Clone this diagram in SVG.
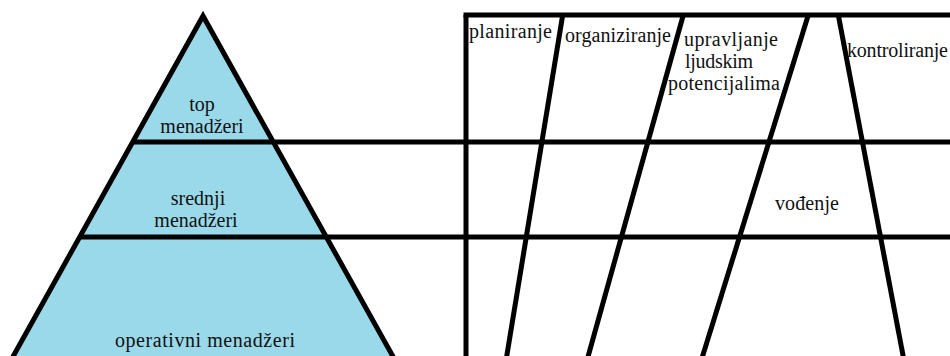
<svg xmlns="http://www.w3.org/2000/svg" width="950" height="356" viewBox="0 0 950 356">
<style>
.lvl{fill:#99D9EA;stroke:none}
.ln{stroke:#000;stroke-width:5;fill:none}
.t{font-family:"Liberation Serif","Times New Roman",Times,serif;font-size:20px;fill:#111}
.c{text-anchor:middle}
</style>
<rect width="950" height="356" fill="#fff"/>
<g id="level-top">
<polygon class="lvl" points="203,16 273.3,142 132.7,142"/>
<text class="t c" x="202" y="111">top</text>
<text class="t c" x="202" y="133">menadžeri</text>
</g>
<g id="level-middle">
<polygon class="lvl" points="132.7,142 273.3,142 326.3,237 79.7,237"/>
<text class="t c" x="198" y="205">srednji</text>
<text class="t c" x="196" y="227">menadžeri</text>
</g>
<g id="level-bottom">
<polygon class="lvl" points="79.7,237 326.3,237 400.5,370 5.5,370"/>
<text class="t c" x="205" y="347" textLength="180">operativni menadžeri</text>
</g>
<g id="functions">
<text class="t" x="469" y="38" textLength="83">planiranje</text>
<text class="t" x="565" y="42" textLength="106">organiziranje</text>
<text class="t" x="684" y="46" textLength="94">upravljanje</text>
<text class="t" x="685" y="68" textLength="68">ljudskim</text>
<text class="t" x="668" y="90" textLength="112">potencijalima</text>
<text class="t" x="847" y="57" textLength="101">kontroliranje</text>
<text class="t" x="775" y="210" textLength="64">vođenje</text>
</g>
<g id="connectors">
<path class="ln" stroke-linejoin="miter" d="M5.5,370 L203,16 L400.5,370"/>
<line class="ln" x1="132.7" y1="142" x2="950" y2="142"/>
<line class="ln" x1="79.7" y1="237" x2="950" y2="237"/>
<line class="ln" x1="466" y1="360" x2="466" y2="15"/>
<line class="ln" x1="463.5" y1="15" x2="950" y2="15"/>
<line class="ln" x1="562.7" y1="15" x2="506.1" y2="360"/>
<line class="ln" x1="683.3" y1="15" x2="587.1" y2="360"/>
<line class="ln" x1="808.3" y1="15" x2="701.4" y2="360"/>
<line class="ln" x1="838.3" y1="15" x2="903.9" y2="360"/>
</g>
</svg>
